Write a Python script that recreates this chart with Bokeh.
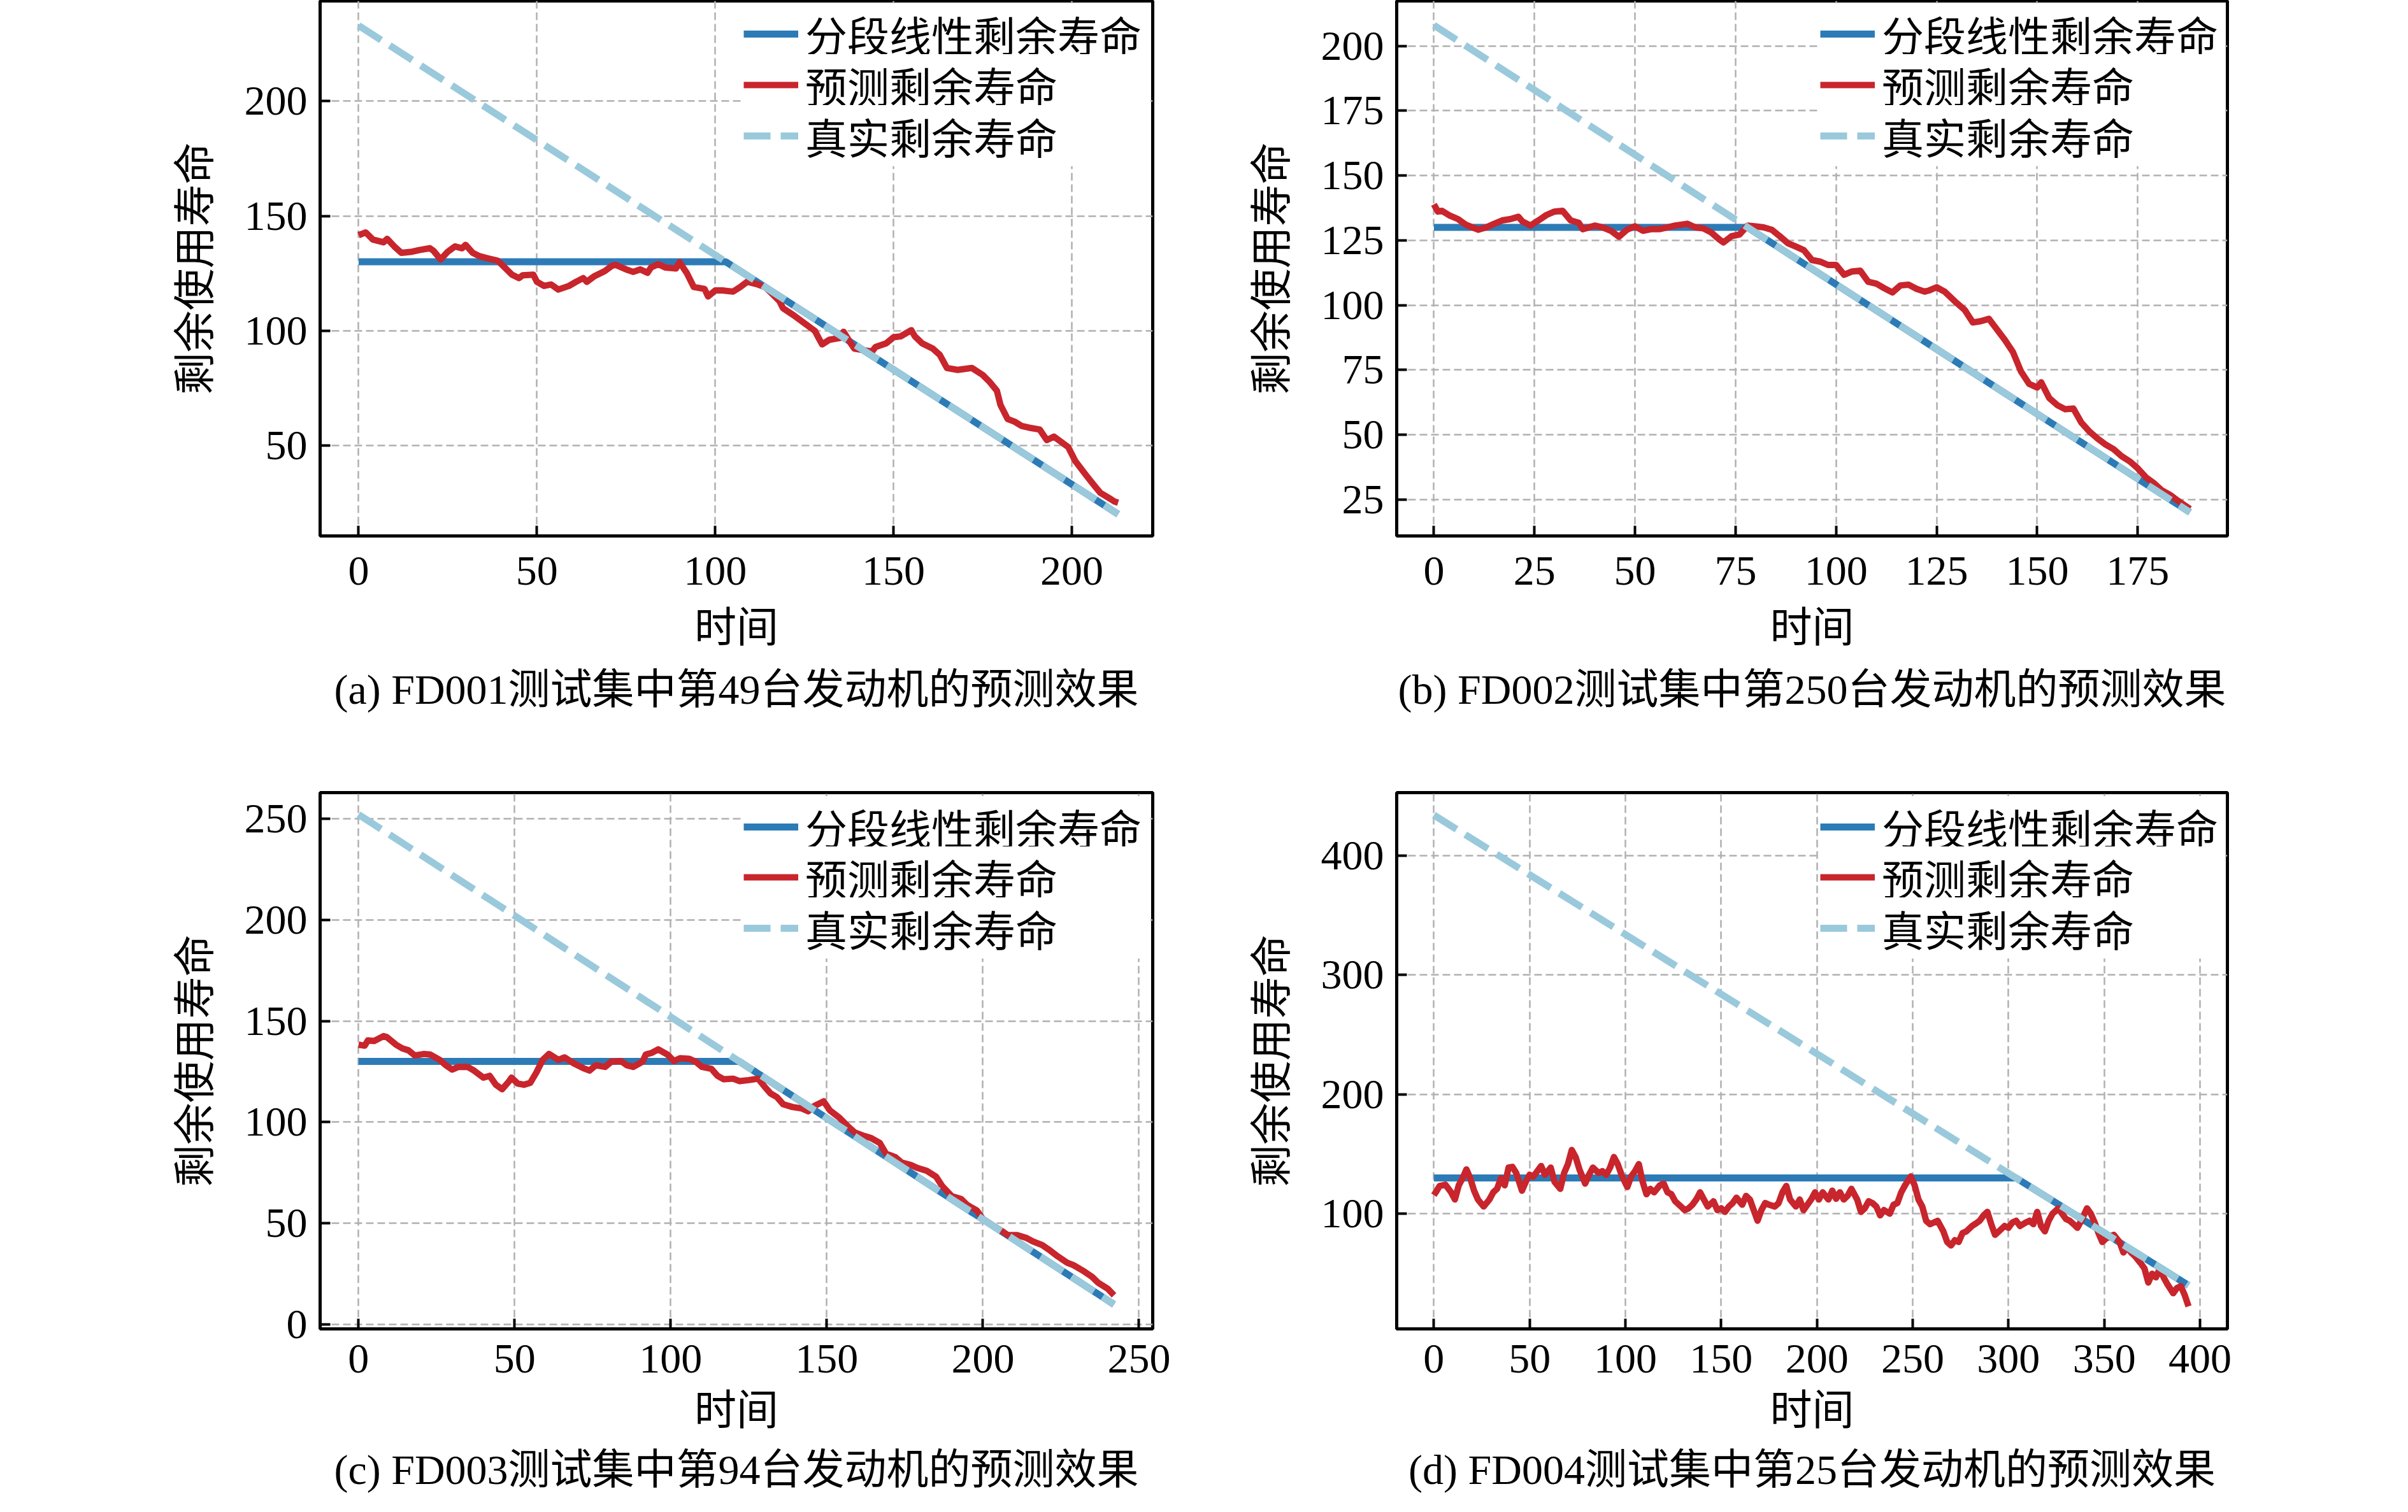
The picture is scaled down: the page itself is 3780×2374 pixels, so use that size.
from bokeh.plotting import figure
from bokeh.layouts import row, column
from bokeh.models import FixedTicker, Range1d, Title, Legend, LegendItem
from bokeh.embed import file_html
from bokeh.resources import INLINE

FONT = "Liberation Serif, Noto Sans CJK SC"
C_PW = "#2c7bb6"
C_PRED = "#c8252c"
C_TRUE = "#9ac9db"

LEG_LABELS = ["分段线性剩余寿命", "预测剩余寿命", "真实剩余寿命"]
XLABEL = "时间"
YLABEL = "剩余使用寿命"

# ---------------- (a) FD001 #49 ----------------
a_caption = "(a) FD001测试集中第49台发动机的预测效果"
a_true_t = [0, 213]
a_true = [233, 20]
a_pw_t = [0, 103, 213]
a_pw = [130, 130, 20]
a_pred = [(0,141.6),(2,142.8),(4,139.7),(7,138.5),(8,140),(10,136.7),(12,133.9),(15,134.4),(17,135.1),(20,135.9),
(21,134.8),(23,131),(25,134.4),(27,136.7),(29,135.9),(30,137.4),(32,133.9),(34,132.4),(36,131.6),(39,130.5),
(41,127.5),(43,124.4),(45,122.9),(46,124.1),(49,124.4),(50,121.3),(52,119.5),(54,120.1),(56,117.9),(59,119.5),
(61,121.3),(63,122.9),(64,121.3),(66,123.6),(69,125.9),(71,128.2),(72,128.7),(75,126.7),(77,125.6),(79,126.7),
(81,125.2),(82,127.5),(84,129),(86,127.5),(89,127.1),(90,129.8),(92,125.2),(94,119),(97,118.2),(98,114.9),
(100,117.5),(102,117.5),(105,117),(107,119),(109,121.3),(112,120.1),(114,119),(116,116),(118,112.9),(119,109.8),
(122,106.7),(124,104.4),(126,102.1),(128,99.8),(129,96.8),(130,94),(132,96),(135,96.8),(136,99.5),(138,94.5),
(139,92.2),(142,91.4),(144,90.9),(145,92.9),(148,94.5),(150,97.1),(152,97.5),(155,100.2),(156,97.5),(158,94.5),
(161,92.2),(163,89.4),(165,83.7),(168,82.9),(170,83.3),(172,83.7),(175,80.7),(177,77.6),(179,73.8),(180,67.6),
(182,61.5),(184,60.3),(186,58.4),(188,57.7),(191,56.9),(193,52.3),(195,53.8),(197,51.5),(199,49.2),(201,43.1),
(204,37),(206,33.1),(208,29.3),(211,26.5),(212,25.5),(213,25)]
a_xticks = [0, 50, 100, 150, 200]
a_yticks = [50, 100, 150, 200]

# ---------------- (b) FD002 #250 ----------------
b_caption = "(b) FD002测试集中第250台发动机的预测效果"
b_true_t = [0, 188]
b_true = [208, 20]
b_pw_t = [0, 78, 188]
b_pw = [130, 130, 20]
b_pred = [(0,138.9),(1,136.1),(2,136.4),(4,134.5),(6,133.2),(8,131),(11,129.1),(13,130),(15,131.4),(17,132.7),
(19,133.2),(21,134.1),(22,132.3),(24,130.7),(26,132.7),(28,134.8),(30,136.1),(32,136.4),(34,132.7),(36,131.8),
(37,129.3),(40,130.7),(42,130),(44,128.7),(46,126.4),(48,129.1),(50,130.4),(52,128.7),(54,129.3),(56,129.3),
(58,130),(60,130.7),(63,131.4),(65,130),(67,129.6),(69,128),(71,125.3),(72,124.2),(74,126.6),(76,127.3),
(78,130.7),(80,130.4),(82,130),(84,129.1),(86,126.6),(88,123.9),(90,122.6),(92,121.2),(94,117.4),(96,116.8),
(98,115.5),(100,115.5),(102,111.7),(104,113),(106,113.3),(108,109),(110,108.3),(112,106.5),(114,104.9),(116,107.6),
(118,107.9),(120,106.3),(122,105.2),(123,105.6),(125,106.9),(127,105.2),(130,100.8),(132,98.1),(134,93.3),(136,93.8),
(138,94.7),(140,90.6),(142,86.5),(144,81.8),(146,74.3),(148,69.6),(150,68.2),(151,70.2),(153,64.1),(155,61.4),
(157,59.8),(159,60.1),(161,54.6),(163,51.2),(165,48.5),(167,46.2),(169,44.4),(171,41.7),(173,39.7),(175,37),
(177,33.6),(179,31.3),(181,28.5),(183,26.8),(185,24.5),(188,21.3)]
b_xticks = [0, 25, 50, 75, 100, 125, 150, 175]
b_yticks = [25, 50, 75, 100, 125, 150, 175, 200]

# ---------------- (c) FD003 #94 ----------------
c_caption = "(c) FD003测试集中第94台发动机的预测效果"
c_true_t = [0, 242]
c_true = [252, 10]
c_pw_t = [0, 122, 242]
c_pw = [130, 130, 10]
c_pred = [(0,138.3),(2,137.8),(3,140.4),(5,140.1),(8,142.5),(9,142.1),(12,138.3),(14,136.5),(16,135.5),(18,133),
(21,133.7),(23,133.4),(26,130.8),(28,128.1),(30,126),(32,127.3),(35,127.3),(37,125.5),(40,122),(42,122.9),
(44,118.5),(46,116.3),(48,119.8),(49,122),(51,119.1),(53,118.5),(55,119.4),(57,124.6),(59,130.8),(61,133.7),
(64,130.8),(66,132),(69,129),(72,126.7),(74,125.5),(76,128.1),(79,127.3),(81,129.9),(84,130.2),(86,128.1),
(88,127.3),(91,129.9),(92,133.4),(94,134.3),(96,136),(99,133.4),(101,130.2),(103,131.6),(106,131.3),(108,129.9),
(110,127.3),(113,126.4),(115,122.9),(117,121.2),(120,121.5),(122,120.3),(125,120.8),(128,121.5),(130,117.7),(132,114.2),
(134,112.4),(136,108.9),(139,107.5),(142,106.8),(144,105.4),(146,108),(149,110.3),(151,105.8),(154,102.3),(157,97.6),
(159,94.9),(162,93.2),(164,92.3),(167,89.7),(169,84.4),(172,82.7),(174,80.1),(177,78.8),(179,77.4),(182,76),
(185,73.1),(187,68.4),(190,63.5),(193,62.1),(195,59.1),(198,56.5),(200,52.1),(203,49.1),(206,46.3),(208,44.2),
(211,44.2),(214,42.8),(216,41.1),(219,39.3),(221,37.2),(224,33.7),(227,30.6),(229,29.4),(232,26.7),(235,23.6),
(237,20.6),(240,17.7),(242,14.5)]
c_xticks = [0, 50, 100, 150, 200, 250]
c_yticks = [0, 50, 100, 150, 200, 250]

# ---------------- (d) FD004 #25 ----------------
d_caption = "(d) FD004测试集中第25台发动机的预测效果"
d_true_t = [0, 394]
d_true = [434, 40]
d_pw_t = [0, 304, 394]
d_pw = [130, 130, 40]
d_pred = [(0,115.6),(1,118),(3,123.3),(6,124.4),(9,118),(11,112),(13,123.9),(15,129.8),(17,137.2),(19,129.8),
(21,119.4),(23,112),(26,106.1),(29,112),(31,118),(33,120.9),(35,129.8),(37,123.9),(39,138.7),(41,139.3),
(43,134.2),(46,119.4),(48,126.8),(50,132.7),(52,131.3),(54,135.7),(56,140.1),(58,132.7),(61,138.7),(63,126.8),
(66,120.9),(68,134.2),(70,141.6),(72,153.5),(74,147.6),(76,137.2),(79,125.3),(81,132.7),(83,138.7),(86,134.2),
(88,135.7),(90,132.7),(92,138.7),(94,147.6),(96,141.6),(98,132.7),(101,122.4),(103,131.3),(105,135.7),(107,141.6),
(109,126.8),(111,116.4),(113,120.9),(115,118),(118,123.9),(120,125.3),(122,118),(124,116.4),(126,110.5),(129,106.1),
(131,103.1),(133,104.6),(135,107.6),(137,112),(139,118),(141,112),(143,106.1),(146,110.5),(148,103.1),(150,104.6),
(152,101.6),(154,106.1),(156,109),(158,113.5),(161,107.6),(163,115),(165,112),(167,103.1),(169,94.2),(171,103.1),
(173,109),(175,107.6),(178,106.1),(180,109),(182,118),(184,123.3),(186,112),(189,106.1),(191,112),(193,103.1),
(195,107.6),(197,112),(199,118),(201,112),(203,118),(206,112),(208,119.4),(210,112.6),(212,118),(214,112),
(216,115),(218,120.9),(221,112),(223,101.6),(225,104.6),(227,110.5),(229,109),(231,106.1),(233,98.7),(235,103.1),
(238,100.1),(240,107.6),(242,109),(244,118),(246,123.9),(249,131.3),(251,123.9),(253,112),(255,106.1),(257,94.2),
(259,91.3),(261,92.7),(263,94.2),(266,85.3),(268,76.4),(270,73.5),(272,77.9),(274,76.4),(276,83.9),(278,85.3),
(281,89.8),(283,91.9),(285,94.2),(287,98.7),(289,101.6),(291,91.3),(293,82.4),(295,85.3),(298,89.8),(300,88.3),
(302,92.7),(304,94.2),(306,89.8),(309,92.7),(311,94.2),(313,91.3),(315,101.6),(317,89.8),(319,85.3),(321,94.2),
(323,100.1),(326,104.6),(328,100.1),(330,95.7),(332,94.2),(334,91.3),(336,88.3),(338,94.2),(341,104.6),(343,100.1),
(345,92.7),(347,83.9),(349,76.4),(351,79.4),(353,80.9),(355,82.4),(358,76.4),(360,67.6),(362,72),(364,67.6),
(366,64.6),(369,58.7),(371,54.2),(373,42.4),(375,49.8),(377,46.8),(379,54.2),(381,46.8),(383,40.9),(386,33.5),
(388,37.9),(390,39.4),(392,32),(394,22.5)]
d_xticks = [0, 50, 100, 150, 200, 250, 300, 350, 400]
d_yticks = [100, 200, 300, 400]

LEG_X = 665
LEG_H = 97


def panel(caption, true_t, true_v, pw_t, pw_v, pred, xticks, yticks, xr, yr,
          width, height, bl, br, bt, bb, standoffs, leg_rows):
    p = figure(width=width, height=height, output_backend="svg", toolbar_location=None,
               x_range=Range1d(*xr), y_range=Range1d(*yr),
               min_border_left=bl, min_border_right=br, min_border_top=bt, min_border_bottom=bb)
    fh = height - bt - bb
    fw = width - bl - br
    p.background_fill_color = "white"
    p.border_fill_color = "white"
    p.outline_line_color = "black"
    p.outline_line_width = 5

    for ax, ticks in ((p.xaxis[0], xticks), (p.yaxis[0], yticks)):
        ax.ticker = FixedTicker(ticks=ticks)
        ax.axis_line_color = None
        ax.major_tick_in = 16
        ax.major_tick_out = 0
        ax.major_tick_line_width = 4
        ax.major_tick_line_color = "black"
        ax.minor_tick_line_color = None
        ax.major_label_text_font = FONT
        ax.major_label_text_font_size = "66px"
        ax.major_label_text_color = "black"
        ax.axis_label_text_font = FONT
        ax.axis_label_text_font_size = "66px"
        ax.axis_label_text_font_style = "normal"
        ax.axis_label_text_color = "black"
    p.xaxis.axis_label = XLABEL
    p.yaxis.axis_label = YLABEL
    tick_so, lab_so, title_so = standoffs
    p.xaxis.major_label_standoff = tick_so
    p.xaxis.axis_label_standoff = lab_so
    p.yaxis.major_label_standoff = 20
    p.yaxis.axis_label_standoff = 38

    p.xgrid.ticker = FixedTicker(ticks=xticks)
    p.ygrid.ticker = FixedTicker(ticks=yticks)
    for g in (p.xgrid[0], p.ygrid[0]):
        g.grid_line_color = "#b0b0b0"
        g.grid_line_width = 2.5
        g.grid_line_dash = "12 6"

    r_pw = p.line(pw_t, pw_v, line_color=C_PW, line_width=11)
    r_pred = p.line([q[0] for q in pred], [q[1] for q in pred], line_color=C_PRED,
                    line_width=10, line_join="round")
    r_true = p.line(true_t, true_v, line_color=C_TRUE, line_width=11, line_dash="42 16")

    for lab, rend, cy in zip(LEG_LABELS, (r_pw, r_pred, r_true), leg_rows):
        leg = Legend(items=[LegendItem(label=lab, renderers=[rend])],
                     location=(LEG_X, fh - cy - LEG_H / 2))
        leg.background_fill_color = "white"
        leg.background_fill_alpha = 1.0
        leg.border_line_color = None
        leg.label_text_font = FONT
        leg.label_text_font_size = "66px"
        leg.label_text_color = "black"
        leg.glyph_width = 86
        leg.glyph_height = 80
        leg.label_height = 80
        leg.label_width = fw - LEG_X - 97 - 3
        leg.label_standoff = 11
        leg.spacing = 0
        leg.padding = 0
        leg.margin = 0
        p.add_layout(leg)

    p.add_layout(Title(text=caption, align="center", text_font=FONT, text_font_size="66px",
                       text_font_style="normal", text_color="black", standoff=title_so), "below")
    return p


WL, WR = 1892, 1664
HT, HB = 1190, 1168
TOP_SO = (33, 28, 38)
BOT_SO = (25, 20, 30)
TOP_ROWS = [51, 131, 211]
BOT_ROWS = [55, 134, 214]
pa = panel(a_caption, a_true_t, a_true, a_pw_t, a_pw, a_pred, a_xticks, a_yticks,
           (-10.8, 222.7), (10.5, 243.7), WL, HT, 502, 83, 1, 349, TOP_SO, TOP_ROWS)
pb = panel(b_caption, b_true_t, b_true, b_pw_t, b_pw, b_pred, b_xticks, b_yticks,
           (-9.25, 197.3), (10.9, 217.4), WR, HT, 300, 60, 1, 349, TOP_SO, TOP_ROWS)
pc = panel(c_caption, c_true_t, c_true, c_pw_t, c_pw, c_pred, c_xticks, c_yticks,
           (-12.3, 254.4), (-2.1, 262.8), WL, HB, 502, 83, 54, 270, BOT_SO, BOT_ROWS)
pd_ = panel(d_caption, d_true_t, d_true, d_pw_t, d_pw, d_pred, d_xticks, d_yticks,
            (-19.4, 414.3), (3.6, 452.8), WR, HB, 300, 60, 54, 270, BOT_SO, BOT_ROWS)

layout = column(row(pa, pb), row(pc, pd_))
open("out.html", "w").write(file_html(layout, INLINE))
